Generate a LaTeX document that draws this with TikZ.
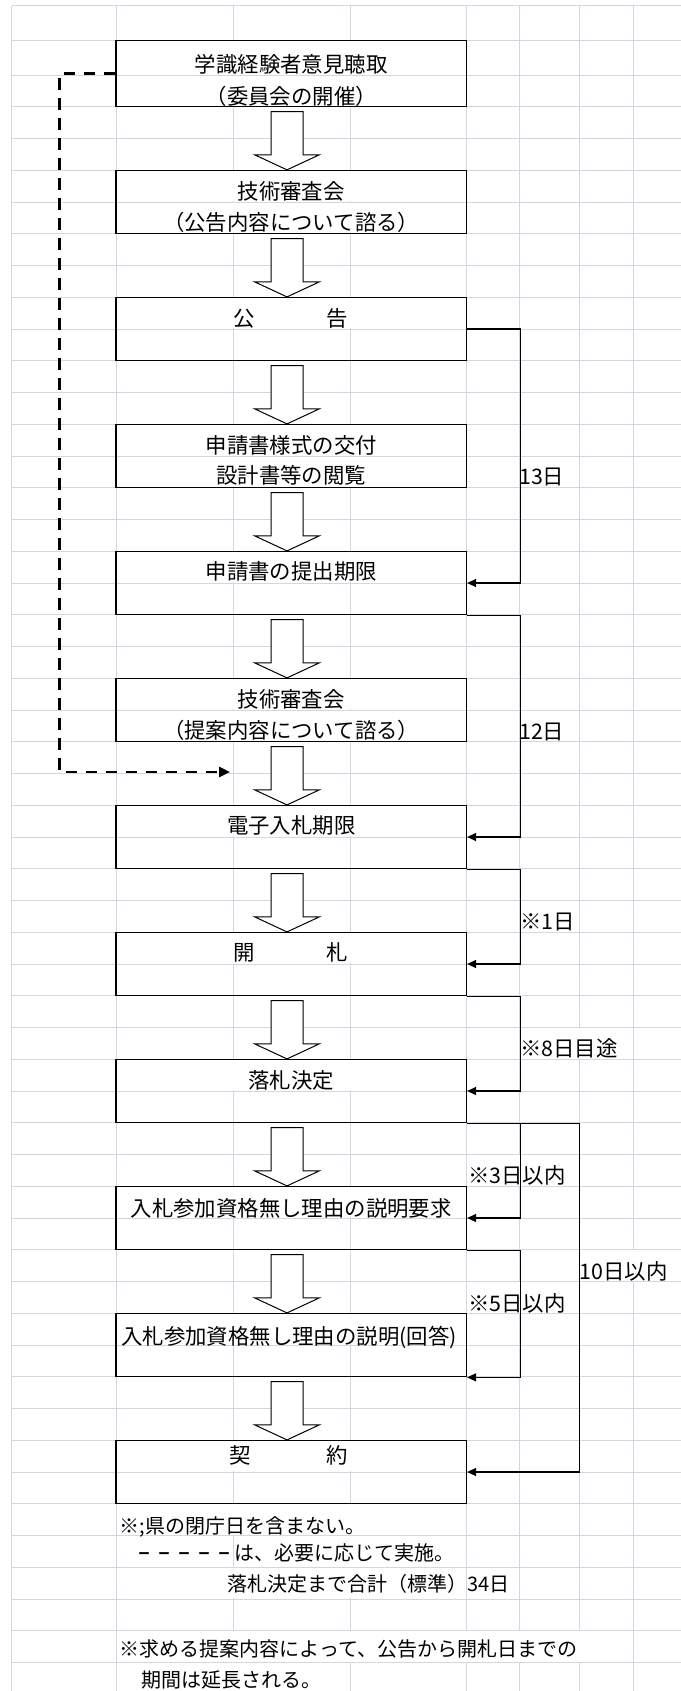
\documentclass[tikz,border=0pt]{standalone}
\usepackage{fontspec}
\usepackage{graphicx}
\newfontfamily\jpfont[AutoFakeBold=2.5]{Noto Sans CJK JP}
\usetikzlibrary{arrows.meta,calc}
\definecolor{gridblue}{RGB}{208,215,229}
\newcommand{\legdash}{\scalebox{0.6}[1]{－}}
\tikzset{
  cell/.style={draw=gridblue, line width=1bp},
  stepbox/.style={shape=rectangle, draw=black, line width=1.2bp, minimum width=350.5bp, minimum height=63.5bp, inner sep=0pt},
  txt/.style={font=\jpfont\fontsize{21.4bp}{25bp}\selectfont, inner sep=0pt, text height=18.8bp, text depth=2.6bp},
  note/.style={font=\jpfont\fontsize{20bp}{24bp}\selectfont, inner sep=0pt, text height=17.6bp, text depth=2.4bp, anchor=west},
  dayline/.style={draw=black, line width=1.2bp, -{Triangle[length=9bp,width=8bp]}},
  optline/.style={draw=black, line width=2.7bp, dash pattern=on 11.5bp off 8.5bp, -{Triangle[length=11bp,width=10bp]}},
  downarrow/.pic={\draw[line width=1bp, fill=white, line join=miter] (-16,0) -- (16,0) -- (16,43.3) -- (32.25,43.3) -- (0,58.3) -- (-32.25,43.3) -- (-16,43.3) -- cycle;}
}
\begin{document}
\begin{tikzpicture}[x=1bp, y=-1bp]
\useasboundingbox (0,0) rectangle (681,1691);
% sheet grid
\foreach \y in {5.7,40.7,75} \draw[cell] (11.7,\y) -- (681,\y);
\foreach \k in {2,...,51} \draw[cell] (11.7,{43.25+31.75*\k}) -- (681,{43.25+31.75*\k});
\foreach \x in {11.7,116,233,350,466.5,519.5,579,633} \draw[cell] (\x,5.7) -- (\x,1691);
% cells covered by text
\foreach \xa/\xb/\ya/\yb in {116/466.5/40.7/75, 116/466.5/75/106.75, 116/466.5/170.25/202, 116/466.5/202/233.75,
  116/466.5/297.25/329, 116/466.5/424.25/456, 116/466.5/456/487.75, 116/466.5/551.25/583,
  116/466.5/678.25/710, 116/466.5/710/741.75, 116/466.5/805.25/837, 116/466.5/932.25/964,
  116/466.5/1059.25/1091, 116/466.5/1186.25/1218, 116/466.5/1313.25/1345, 116/466.5/1440.25/1472,
  519.5/633/1027.5/1059.25, 466.5/579/1154.5/1186.25, 579/683/1249.75/1281.5, 466.5/579/1281.5/1313.25,
  116/466.5/1503.75/1535.5, 233/466.5/1535.5/1567.25, 116/466.5/1567.25/1599, 116/633/1630.75/1662.5,
  116/350/1662.5/1694.25}
  \fill[white] ({\xa+0.7},{\ya+0.7}) rectangle ({\xb-0.7},{\yb-0.7});

% steps
\node[stepbox, minimum height=66bp] (1) at (291.25,73.7) {};
\node[stepbox] (2) at (291.25,202) {};
\node[stepbox] (3) at (291.25,329) {};
\node[stepbox] (4) at (291.25,456) {};
\node[stepbox] (5) at (291.25,583) {};
\node[stepbox] (6) at (291.25,710) {};
\node[stepbox] (7) at (291.25,837) {};
\node[stepbox] (8) at (291.25,964) {};
\node[stepbox] (9) at (291.25,1091) {};
\node[stepbox] (10) at (291.25,1218) {};
\node[stepbox] (11) at (291.25,1345) {};
\node[stepbox] (12) at (291.25,1472) {};

\node[txt] (1a) at (291.25,64) {学識経験者意見聴取};
\node[txt] (1b) at (291.25,96.7) {（委員会の開催）};
\node[txt] (2a) at (291.25,191.7) {技術審査会};
\node[txt] (2b) at (291.25,222.3) {（公告内容について諮る）};
\node[txt] (3a) at (290.75,318.3) {公\hspace{72bp}告};
\node[txt] (4a) at (291.25,445) {申請書様式の交付};
\node[txt] (4b) at (291.25,475.8) {設計書等の閲覧};
\node[txt] (5a) at (291.25,571.7) {申請書の提出期限};
\node[txt] (6a) at (291.25,699) {技術審査会};
\node[txt] (6b) at (291.25,730) {（提案内容について諮る）};
\node[txt] (7a) at (291.25,825.7) {電子入札期限};
\node[txt] (8a) at (290.5,952.3) {開\hspace{72bp}札};
\node[txt] (9a) at (291.25,1080) {落札決定};
\node[txt] (10a) at (291.25,1208.3) {入札参加資格無し理由の説明要求};
\node[txt] (11a) at (289,1336.7) {入札参加資格無し理由の説明(回答)};
\node[txt] (12a) at (288.8,1455.7) {契\hspace{75bp}約};

% block arrows
\foreach \a in {1,...,11} \pic at ($(\a.south)+(-4.25,4.25)$) {downarrow};

% periods
\draw[dayline] (3.east) -- ++(53,0) |- (5.east);
\draw[dayline] (5.south east) -- ++(53,0) |- (7.east);
\draw[dayline] (7.south east) -- ++(53,0) |- (8.east);
\draw[dayline] (8.south east) -- ++(53,0) |- (9.east);
\draw[dayline] (9.south east) -- ++(53,0) |- (10.east);
\draw[dayline] (10.south east) -- ++(53,0) |- (11.south east);
\draw[dayline] (9.south east) -- ++(112.5,0) |- (12.east);

\node[txt, anchor=west] (d13) at (519,476.7) {13日};
\node[txt, anchor=west] (d12) at (519,731.7) {12日};
\node[txt, anchor=west] (d1) at (520,921.7) {※1日};
\node[txt, anchor=west] (d8) at (520,1048.3) {※8日目途};
\node[txt, anchor=west] (d3) at (468,1175) {※3日以内};
\node[txt, anchor=west] (d10) at (579.5,1271.7) {10日以内};
\node[txt, anchor=west] (d5) at (468,1303.3) {※5日以内};

% optional hearing
\coordinate (optend) at (230,772);
\draw[optline] (1.west) -- ++(-55.7,0) |- (optend);

% notes
\node[note] (n1) at (119.5,1526) {※;県の閉庁日を含まない。};
\node[note, anchor=center] (n2) at (184,1553) {\bfseries\legdash\hspace{8bp}\legdash\hspace{8bp}\legdash\hspace{8bp}\legdash\hspace{8bp}\legdash};
\node[note] (n3) at (234,1553) {は、必要に応じて実施。};
\node[note] (n4) at (227,1583.5) {落札決定まで合計（標準）};
\node[note] (n5) at (467.5,1583.5) {34日};
\node[note] (n6) at (119.5,1649) {※求める提案内容によって、公告から開札日までの};
\node[note] (n7) at (141,1680) {期間は延長される。};
\end{tikzpicture}
\end{document}
